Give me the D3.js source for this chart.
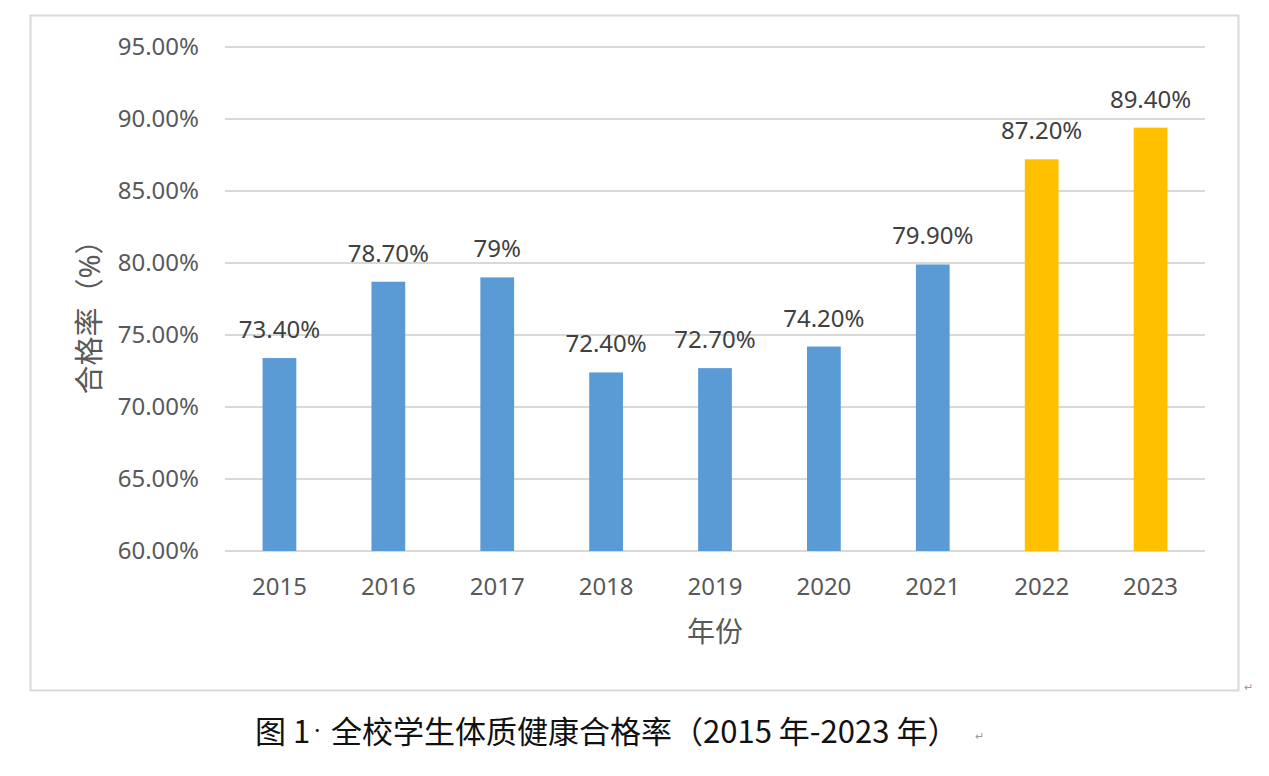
<!DOCTYPE html>
<html>
<head>
<meta charset="utf-8">
<script src="https://cdn.jsdelivr.net/npm/d3@7"></script>
<style>
  body { margin: 0; background: #fff; }
  svg text { font-family: "Noto Sans", "Open Sans", "Noto Sans CJK SC", sans-serif; }
</style>
</head>
<body>
<div id="graph"></div>
<script>
// data
var years = ["2015", "2016", "2017", "2018", "2019", "2020", "2021", "2022", "2023"];
var rates = [73.4, 78.7, 79.0, 72.4, 72.7, 74.2, 79.9, 87.2, 89.4];
var labels = ["73.40%", "78.70%", "79%", "72.40%", "72.70%", "74.20%", "79.90%", "87.20%", "89.40%"];
var yTicks = [60, 65, 70, 75, 80, 85, 90, 95];

var W = 1269, H = 776;
var margin = {left: 225, right: 64, top: 47, bottom: 225};
var w = W - margin.left - margin.right,
    h = H - margin.top - margin.bottom;

var root = d3.select("#graph").append("svg")
    .attr("width", W)
    .attr("height", H);

// outer chart frame
root.append("rect")
    .attr("x", 30.5).attr("y", 15.5)
    .attr("width", 1208).attr("height", 675)
    .attr("fill", "none")
    .attr("stroke", "#d9d9d9")
    .attr("stroke-width", 2);

var svg = root.append("g")
    .attr("transform", "translate(" + margin.left + "," + margin.top + ")");

var x = d3.scaleBand()
    .domain(years)
    .range([0, 980])
    .paddingInner(0.69)
    .paddingOuter(0.345);

var y = d3.scaleLinear()
    .domain([60, 95])
    .range([504, 0]);

// gridlines
svg.append("g")
    .selectAll("line")
    .data(yTicks)
    .enter().append("line")
    .attr("x1", 0).attr("x2", 980)
    .attr("y1", function(d) { return y(d); })
    .attr("y2", function(d) { return y(d); })
    .attr("stroke", "#d9d9d9")
    .attr("stroke-width", 2);

// y axis labels
var yAxis = svg.append("g")
    .call(d3.axisLeft(y).tickValues(yTicks).tickSize(0).tickPadding(26)
        .tickFormat(function(d) { return d.toFixed(2) + "%"; }));
yAxis.select(".domain").remove();
yAxis.selectAll("text")
    .attr("font-size", 24)
    .attr("fill", "#595959")
    .style("font-family", "\"Noto Sans\", sans-serif");

// x axis labels
var xAxis = svg.append("g")
    .attr("transform", "translate(0,504)")
    .call(d3.axisBottom(x).tickSize(0).tickPadding(27));
xAxis.select(".domain").remove();
xAxis.selectAll("text")
    .attr("font-size", 24)
    .attr("fill", "#595959")
    .style("font-family", "\"Noto Sans\", sans-serif");

// bars
svg.selectAll("rect.bar")
    .data(rates)
    .enter().append("rect")
    .attr("class", "bar")
    .attr("x", function(d, i) { return x(years[i]); })
    .attr("y", function(d) { return y(d); })
    .attr("width", x.bandwidth())
    .attr("height", function(d) { return y(60) - y(d); })
    .attr("fill", function(d, i) { return i >= 7 ? "#ffc000" : "#5b9bd5"; });

// value labels
svg.selectAll("text.val")
    .data(rates)
    .enter().append("text")
    .attr("class", "val")
    .attr("x", function(d, i) { return x(years[i]) + x.bandwidth() / 2; })
    .attr("y", function(d) { return y(d) - 20; })
    .attr("text-anchor", "middle")
    .attr("font-size", 24)
    .attr("fill", "#404040")
    .text(function(d, i) { return labels[i]; });

// axis titles
root.append("text")
    .attr("transform", "translate(100,310) rotate(-90)")
    .attr("text-anchor", "middle")
    .attr("font-size", 29)
    .attr("fill", "#595959")
    .text("合格率（%）");

root.append("text")
    .attr("x", 715).attr("y", 642)
    .attr("text-anchor", "middle")
    .attr("font-size", 28)
    .attr("fill", "#595959")
    .text("年份");

// caption under the chart
var cap = root.append("text")
    .attr("x", 255).attr("y", 743)
    .attr("font-size", 31)
    .attr("fill", "#111")
    .style("font-family", "\"Noto Sans CJK SC\", sans-serif");
cap.append("tspan").text("图 1");
cap.append("tspan").attr("font-size", 14).attr("dy", -8).text("·");
cap.append("tspan").attr("dy", 8).text(" 全校学生体质健康合格率（2015 年-2023 年）");

root.append("text")
    .attr("x", 975).attr("y", 740)
    .attr("font-size", 11)
    .attr("fill", "#999")
    .text("↵");
root.append("text")
    .attr("x", 1244).attr("y", 691)
    .attr("font-size", 11)
    .attr("fill", "#999")
    .text("↵");
</script>
</body>
</html>
